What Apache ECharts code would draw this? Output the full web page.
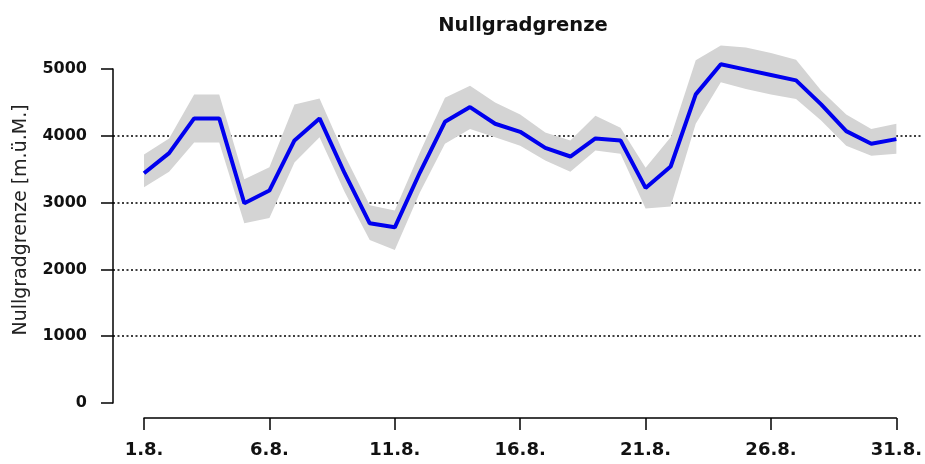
<!DOCTYPE html>
<html>
<head>
<meta charset="utf-8">
<script src="https://cdn.jsdelivr.net/npm/echarts@6/dist/echarts.min.js"></script>
<style>
  html, body { margin: 0; padding: 0; background: #fff; }
  #chart { width: 925px; height: 464px; }
</style>
</head>
<body>
<div id="chart"></div>
<script>
  // Tage im August
  var days = ['1.8.', '2.8.', '3.8.', '4.8.', '5.8.', '6.8.', '7.8.', '8.8.', '9.8.', '10.8.',
    '11.8.', '12.8.', '13.8.', '14.8.', '15.8.', '16.8.', '17.8.', '18.8.', '19.8.', '20.8.',
    '21.8.', '22.8.', '23.8.', '24.8.', '25.8.', '26.8.', '27.8.', '28.8.', '29.8.', '30.8.', '31.8.'];

  // Nullgradgrenze (Mittel)
  var mean = [3440, 3740, 4260, 4260, 2990, 3180, 3930, 4260, 3440, 2690,
    2630, 3450, 4210, 4430, 4180, 4060, 3820, 3690, 3960, 3930,
    3220, 3540, 4620, 5070, 4990, 4910, 4830, 4470, 4070, 3880, 3950];

  // Unsicherheitsband
  var upper = [3720, 3960, 4620, 4620, 3350, 3530, 4470, 4560, 3710, 2960,
    2880, 3750, 4570, 4750, 4500, 4320, 4050, 3930, 4300, 4120,
    3520, 3980, 5130, 5350, 5320, 5240, 5140, 4680, 4320, 4100, 4180];
  var lower = [3230, 3460, 3900, 3900, 2690, 2770, 3600, 3980, 3160, 2440,
    2290, 3150, 3880, 4100, 3980, 3850, 3630, 3460, 3780, 3730,
    2910, 2940, 4180, 4800, 4700, 4620, 4550, 4230, 3850, 3700, 3730];

  var yTicks = [0, 1000, 2000, 3000, 4000, 5000];

  var bandWidth = upper.map(function (u, i) { return u - lower[i]; });

  var chart = echarts.init(document.getElementById('chart'));

  var option = {
    animation: false,
    backgroundColor: '#fff',
    title: {
      text: 'Nullgradgrenze',
      left: 518,
      top: 11,
      textAlign: 'center',
      textStyle: { fontFamily: 'DejaVu Sans', fontWeight: 'bold', fontSize: 19.5, color: '#111' }
    },
    graphic: [{
      type: 'text',
      x: 21,
      y: 220,
      rotation: Math.PI / 2,
      style: {
        text: 'Nullgradgrenze [m.ü.M.]',
        fontFamily: 'DejaVu Sans',
        fontSize: 19,
        fill: '#222',
        textAlign: 'center',
        textVerticalAlign: 'middle'
      }
    }],
    grid: [
      // y-Achse + Hilfslinien
      { left: 113, right: 2, top: 69, bottom: 61 },
      // Daten + x-Achse
      { left: 144, right: 24, top: 69, bottom: 61 }
    ],
    xAxis: [
      { gridIndex: 0, type: 'value', min: 0, max: 1, show: false },
      {
        gridIndex: 1,
        type: 'category',
        data: days,
        boundaryGap: false,
        offset: 15,
        axisLine: { onZero: false, lineStyle: { color: '#000', width: 1.5 } },
        axisTick: { interval: 4, length: 12, lineStyle: { color: '#000', width: 1.5 } },
        axisLabel: {
          interval: 4, margin: 23,
          fontFamily: 'DejaVu Sans', fontWeight: 'bold', fontSize: 18, color: '#111'
        },
        splitLine: { show: false }
      }
    ],
    yAxis: [
      {
        gridIndex: 0,
        type: 'value',
        min: yTicks[0],
        max: yTicks[yTicks.length - 1],
        interval: 1000,
        axisLine: { show: true, lineStyle: { color: '#000', width: 1.5 } },
        axisTick: { show: true, length: 12, lineStyle: { color: '#000', width: 1.5 } },
        axisLabel: {
          margin: 26,
          formatter: function (v) { return String(v); },
          fontFamily: 'DejaVu Sans', fontWeight: 'bold', fontSize: 16, color: '#111'
        },
        splitLine: {
          show: true,
          showMinLine: false,
          showMaxLine: false,
          lineStyle: { color: '#000', type: [2, 2.5], width: 1.5 }
        }
      },
      { gridIndex: 1, type: 'value', min: 0, max: 5000, show: false }
    ],
    series: [
      {
        name: 'unten',
        type: 'line',
        xAxisIndex: 1,
        yAxisIndex: 1,
        data: lower,
        stack: 'band',
        symbol: 'none',
        clip: false,
        lineStyle: { opacity: 0 },
        silent: true
      },
      {
        name: 'Band',
        type: 'line',
        xAxisIndex: 1,
        yAxisIndex: 1,
        data: bandWidth,
        stack: 'band',
        symbol: 'none',
        clip: false,
        lineStyle: { opacity: 0 },
        areaStyle: { color: '#d4d4d4', opacity: 1 },
        silent: true
      },
      {
        name: 'Nullgradgrenze',
        type: 'line',
        xAxisIndex: 1,
        yAxisIndex: 1,
        data: mean,
        symbol: 'none',
        clip: false,
        lineStyle: { color: '#0000ee', width: 4 }
      }
    ]
  };

  chart.setOption(option);
</script>
</body>
</html>
